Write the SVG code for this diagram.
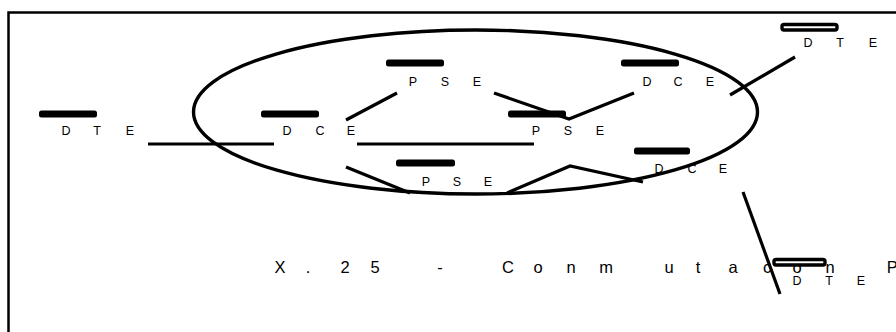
<svg xmlns="http://www.w3.org/2000/svg" width="896" height="332" viewBox="0 0 896 332">
  <style>
    .frame { fill: none; stroke: #000; stroke-width: 2.5; }
    .bar { fill: #000; }
    .hollow { fill: #fff; stroke: #000; stroke-width: 3.4; }
    .lbl { font-family: "Liberation Sans", Arial, sans-serif; font-size: 12.5px; fill: #000; text-anchor: middle; }
    .title { font-family: "Liberation Sans", Arial, sans-serif; font-size: 16.5px; fill: #000; text-anchor: middle; }
    .link { fill: none; stroke: #000; stroke-width: 3.2; stroke-linecap: butt; stroke-linejoin: miter; }
    .cloud { fill: none; stroke: #000; stroke-width: 3.4; }
  </style>

  <rect width="896" height="332" fill="#fff"/>

  <!-- outer frame, runs off the right and bottom edges -->
  <rect class="frame" x="8.5" y="12.5" width="900" height="330"/>

  <!-- caption -->
  <text class="title" x="280 308 345 375 440 508 538 571 606 669 698 733 767 797 830 890" y="273">X.25-Conmutacón P</text>

  <!-- stations -->
  <g id="dte-left">
    <rect class="bar" x="39" y="110.5" width="58" height="7" rx="2.5"/>
    <text class="lbl" x="66 97 130" y="135">DTE</text>
  </g>
  <g id="dce-left">
    <rect class="bar" x="261" y="110.5" width="58" height="7" rx="2.5"/>
    <text class="lbl" x="287 320 351" y="135">DCE</text>
  </g>
  <g id="pse-top">
    <rect class="bar" x="386" y="59.5" width="58" height="7" rx="2.5"/>
    <text class="lbl" x="413 445 477" y="86">PSE</text>
  </g>
  <g id="pse-right">
    <rect class="bar" x="508" y="110.5" width="58" height="7" rx="2.5"/>
    <text class="lbl" x="536 568 600" y="135">PSE</text>
  </g>
  <g id="dce-top-right">
    <rect class="bar" x="621" y="59.5" width="58" height="7" rx="2.5"/>
    <text class="lbl" x="647 678 710" y="86">DCE</text>
  </g>
  <g id="dte-top-right">
    <rect class="hollow" x="782" y="24.5" width="55" height="5.5" rx="2"/>
    <text class="lbl" x="808 840 873" y="47">DTE</text>
  </g>
  <g id="pse-bottom">
    <rect class="bar" x="396" y="159.5" width="59" height="7" rx="2.5"/>
    <text class="lbl" x="426 457 488" y="186">PSE</text>
  </g>
  <g id="dce-bottom-right">
    <rect class="bar" x="634" y="147.5" width="56" height="7" rx="2.5"/>
    <text class="lbl" x="659 692 723" y="173">DCE</text>
  </g>
  <g id="dte-bottom-right">
    <rect class="hollow" x="774" y="259.5" width="51" height="5.5" rx="2"/>
    <text class="lbl" x="797 829 861" y="285">DTE</text>
  </g>

  <!-- packet network boundary -->
  <ellipse class="cloud" cx="475.5" cy="112" rx="282" ry="82"/>

  <!-- links -->
  <g id="links">
    <line class="link" x1="148" y1="144" x2="274" y2="144"/>
    <line class="link" x1="357" y1="144" x2="534" y2="144"/>
    <line class="link" x1="346" y1="120" x2="397" y2="93"/>
    <polyline class="link" points="494,93 569,119 634,93"/>
    <line class="link" x1="730" y1="95" x2="795" y2="57"/>
    <line class="link" x1="346" y1="167" x2="410" y2="193"/>
    <polyline class="link" points="507,193 570,166 643,182"/>
    <line class="link" x1="743" y1="192" x2="780" y2="294"/>
  </g>
</svg>
